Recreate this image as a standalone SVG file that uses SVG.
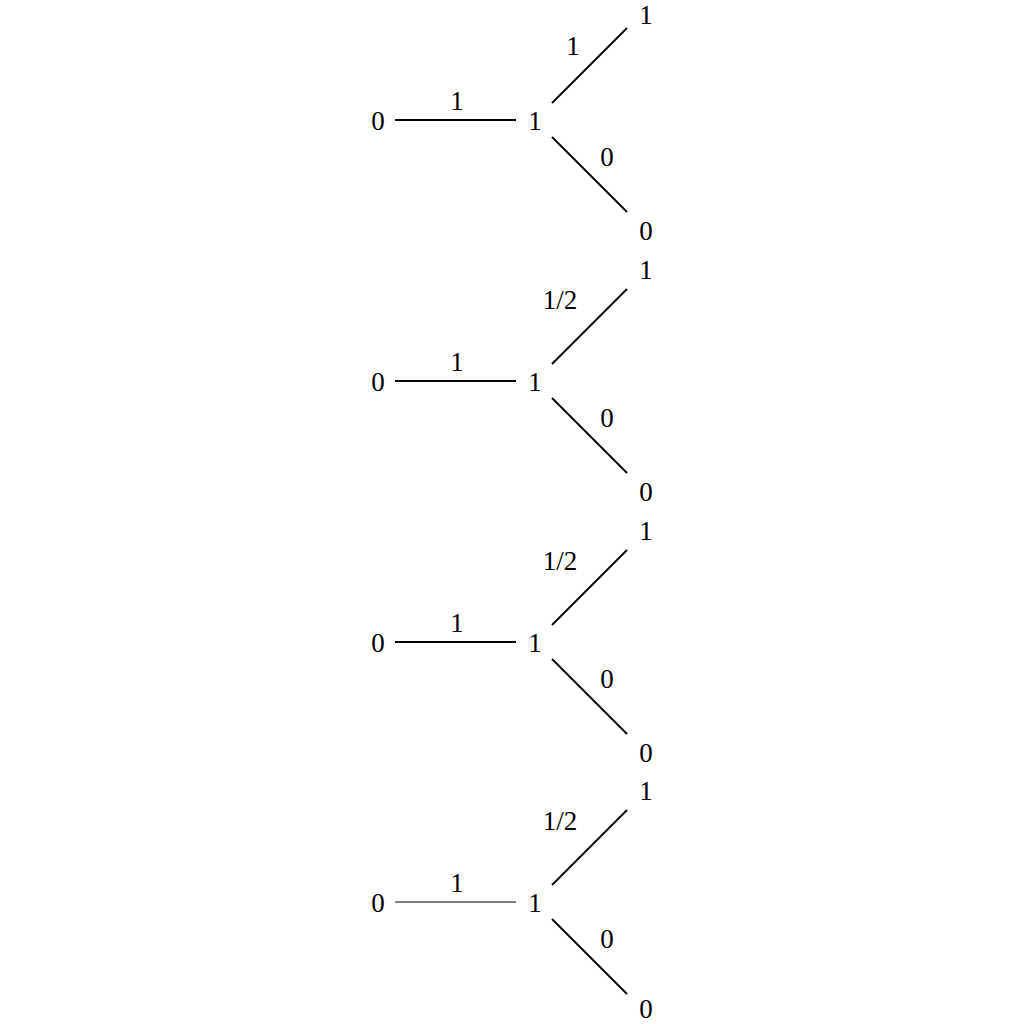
<svg xmlns="http://www.w3.org/2000/svg" width="1024" height="1024" viewBox="0 0 1024 1024">
<style>
text{font-family:"Liberation Serif","DejaVu Serif",serif;font-size:27px;fill:#000;text-anchor:middle}
.e{stroke:#000;stroke-width:1.9;fill:none}
.thin{stroke-width:1.2}
</style>
<rect width="1024" height="1024" fill="#fff"/>
<g id="connectors">
<g transform="translate(0,0)"><line class="e" x1="395" y1="120" x2="516" y2="120"/><line class="e" x1="552" y1="103" x2="627" y2="28"/><line class="e" x1="552" y1="137" x2="627" y2="212"/></g>
<g transform="translate(0,261)"><line class="e" x1="395" y1="120" x2="516" y2="120"/><line class="e" x1="552" y1="103" x2="627" y2="28"/><line class="e" x1="552" y1="137" x2="627" y2="212"/></g>
<g transform="translate(0,522)"><line class="e" x1="395" y1="120" x2="516" y2="120"/><line class="e" x1="552" y1="103" x2="627" y2="28"/><line class="e" x1="552" y1="137" x2="627" y2="212"/></g>
<g transform="translate(0,782)"><line class="e thin" x1="395" y1="120" x2="516" y2="120"/><line class="e" x1="552" y1="103" x2="627" y2="28"/><line class="e" x1="552" y1="137" x2="627" y2="212"/></g>
</g>
<g id="labels">
<text x="457" y="110">1</text><text x="573" y="55">1</text><text x="607" y="166">0</text>
<text x="457" y="371">1</text><text x="560" y="309">1/2</text><text x="607" y="427">0</text>
<text x="457" y="632">1</text><text x="560" y="570">1/2</text><text x="607" y="688">0</text>
<text x="457" y="892">1</text><text x="560" y="830">1/2</text><text x="607" y="948">0</text>
</g>
<g id="t1a"><text x="378" y="130">0</text></g>
<g id="t1b"><text x="535" y="130">1</text></g>
<g id="t1c"><text x="646" y="24">1</text></g>
<g id="t1d"><text x="646" y="240">0</text></g>
<g id="t2a"><text x="378" y="391">0</text></g>
<g id="t2b"><text x="535" y="391">1</text></g>
<g id="t2c"><text x="646" y="279">1</text></g>
<g id="t2d"><text x="646" y="501">0</text></g>
<g id="t3a"><text x="378" y="652">0</text></g>
<g id="t3b"><text x="535" y="652">1</text></g>
<g id="t3c"><text x="646" y="540">1</text></g>
<g id="t3d"><text x="646" y="762">0</text></g>
<g id="t4a"><text x="378" y="912">0</text></g>
<g id="t4b"><text x="535" y="912">1</text></g>
<g id="t4c"><text x="646" y="800">1</text></g>
<g id="t4d"><text x="646" y="1018">0</text></g>
</svg>
